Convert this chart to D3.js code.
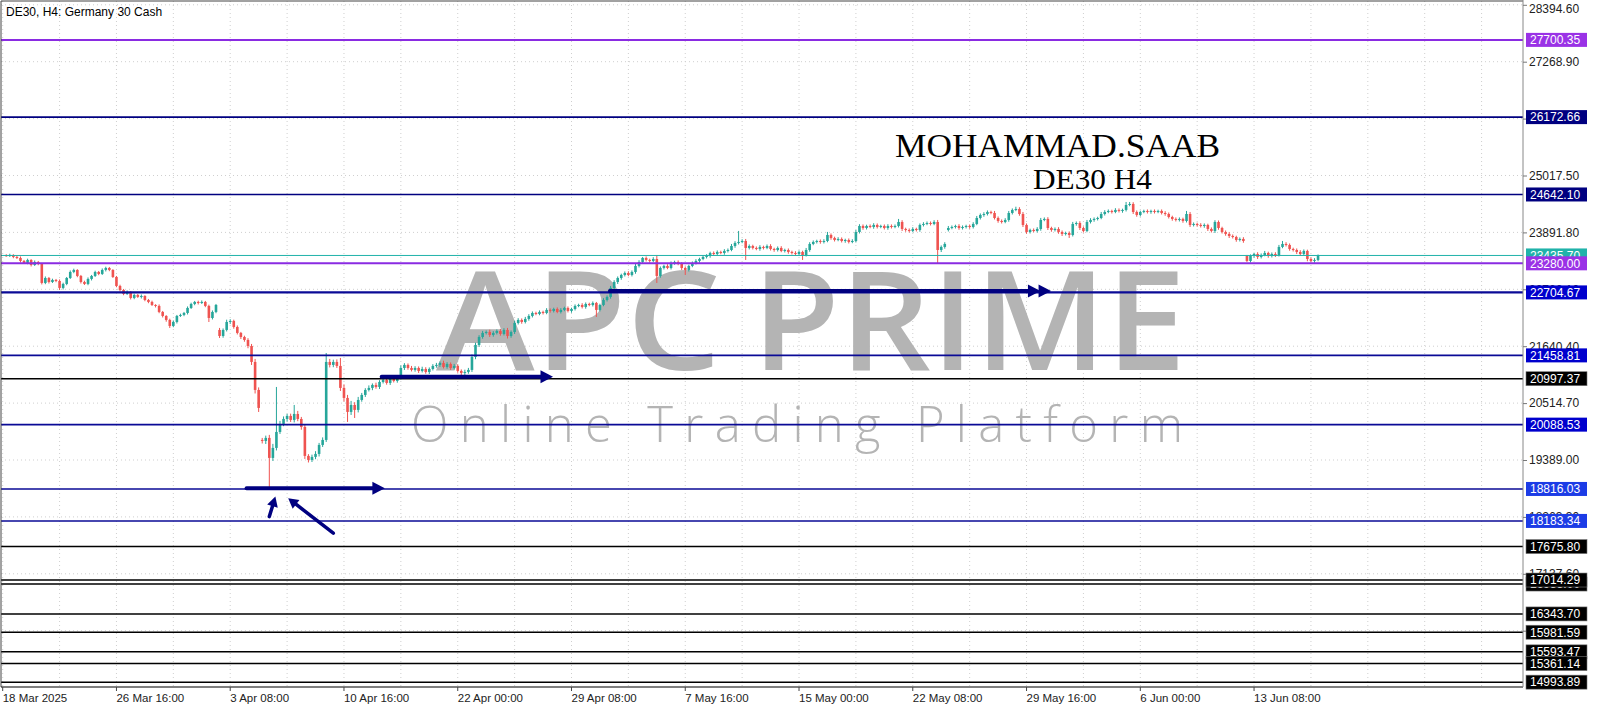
<!DOCTYPE html>
<html><head><meta charset="utf-8">
<script src="https://cdn.jsdelivr.net/npm/d3@7"></script>
<style>html,body{margin:0;padding:0;background:#fff;overflow:hidden}</style>
</head><body><svg id="c" width="1600" height="711"></svg>
<script>
// ---------- DATA ----------
const firstOpen = 23440;
const closes = [
23426,23445,23406,23386,23327,23287,23347,23248,23307,23267,
22892,22990,22911,22951,22931,22793,22872,22990,23109,23149,
23030,22911,22872,22971,23030,23109,23070,23149,23188,23149,
23010,22832,22753,22674,22714,22595,22654,22615,22634,22555,
22516,22456,22437,22318,22239,22160,22041,22120,22239,22259,
22298,22397,22476,22516,22496,22516,22437,22199,22318,22456,
21843,21962,22120,22140,22021,21903,21823,21764,21645,21329,
20775,20419,19766,19826,19430,19628,19944,20103,20201,20261,
20182,20300,20201,20043,19470,19390,19450,19509,19687,19786,
21329,21270,21329,21250,20815,20617,20340,20478,20380,20577,
20676,20775,20815,20874,20834,20933,20973,20914,20993,20953,
21012,21210,21270,21210,21171,21210,21151,21190,21131,21190,
21250,21270,21309,21230,21289,21210,21250,21151,21111,21131,
21171,21428,21665,21823,21903,21922,21863,21903,21942,21883,
21962,21843,21922,22100,22160,22120,22180,22239,22298,22278,
22318,22298,22358,22338,22377,22318,22358,22397,22338,22377,
22437,22456,22417,22476,22456,22496,22358,22456,22555,22615,
22793,22911,22990,23050,23089,23050,23109,23228,23307,23386,
23347,23327,23366,23030,23188,23228,23188,23287,23307,23267,
23188,23149,23228,23287,23327,23366,23406,23426,23485,23465,
23505,23485,23525,23544,23623,23683,23703,23722,23584,23623,
23584,23564,23604,23584,23623,23564,23544,23584,23525,23544,
23505,23485,23465,23505,23445,23544,23663,23703,23722,23703,
23722,23841,23782,23742,23762,23722,23742,23703,23722,23900,
24019,23979,24019,23999,24039,23999,24019,23979,24019,23999,
24019,24098,23960,23940,23920,23960,23940,24039,24059,24078,
24059,24098,23544,23604,23663,23979,23999,24019,23979,23999,
24019,23999,24059,24177,24237,24256,24296,24276,24177,24118,
24098,24138,24276,24336,24355,24256,24039,23900,23940,23920,
23960,24138,24158,23979,23940,23960,23900,23861,23881,23841,
24059,24078,23979,23920,24098,24138,24158,24177,24256,24296,
24316,24296,24336,24316,24336,24434,24454,24296,24237,24296,
24316,24296,24316,24296,24316,24276,24256,24197,24158,24138,
24158,24118,24256,24039,24059,24039,24019,24039,23960,23920,
24098,23979,23900,23861,23821,23801,23742,23762,23722,23327,
23426,23465,23406,23445,23485,23426,23465,23445,23604,23663,
23643,23564,23544,23505,23465,23525,23366,23327,23347,23435.7];
// bars that open away from the previous close (weekend / news gaps)
const gapIndex = [60, 72, 265, 349];
const gapOpen  = [21962, 19786, 23940, 23426];
// wick extension above / below the body, in points
const wickUp = [
20,25,15,20,30,20,25,15,30,20, 15,30,20,25,20,30,25,20,30,25,
15,20,25,30,20,25,20,30,25,20, 15,20,25,20,30,15,25,20,30,15,
20,25,15,30,20,15,25,30,20,25, 20,30,25,20,25,30,20,25,30,20,
40,30,45,35,25,30,20,25,35,40, 60,50,40,45,60,80,890,60,50,40,
45,178,60,40,50,35,45,55,40,50, 177,60,45,50,158,70,60,80,55,60,
40,35,50,30,45,35,40,30,45,35, 40,50,35,30,40,35,30,45,35,30,
35,40,30,45,35,30,40,35,30,45, 40,50,45,35,40,30,45,35,30,40,
35,40,30,45,35,30,40,35,30,25, 30,25,35,30,25,30,35,25,30,25,
30,25,35,30,25,30,20,25,35,30, 40,35,30,25,30,35,30,40,35,20,
30,25,35,79,30,25,35,30,25,30, 35,30,25,30,35,25,30,35,25,30,
30,25,35,30,40,35,218,35,40,30, 25,30,35,25,30,35,25,30,35,25,
30,25,35,30,25,40,35,30,25,30, 35,60,30,25,35,30,25,30,35,40,
35,30,25,30,35,30,25,30,35,30, 30,60,35,25,30,35,25,30,35,30,
30,35,40,30,35,40,30,25,35,30, 25,30,35,40,30,35,30,25,40,30,
30,35,40,30,45,35,40,30,25,30, 35,40,30,35,25,30,35,30,25,30,
40,30,35,30,40,35,30,25,40,35, 30,25,35,30,25,60,40,35,30,25,
25,30,25,30,25,30,35,30,25,30, 30,25,60,40,30,25,35,30,25,30,
35,30,25,30,35,30,25,30,35,20, 30,25,35,30,40,25,30,35,40,59,
35,30,25,30,35,30,25,30,35,20];
const wickDn = [
15,20,25,20,30,15,25,30,20,25, 30,25,30,20,25,40,30,25,20,25,
25,30,20,25,30,20,25,20,30,25, 20,25,30,25,20,30,25,20,30,25,
25,20,30,25,30,35,40,25,30,20, 25,30,20,25,30,20,25,80,30,25,
40,35,30,40,35,30,40,35,45,60, 70,80,50,60,574,60,50,40,45,50,
40,50,45,55,60,50,40,45,50,40, 40,50,45,40,60,70,198,60,160,50,
35,40,30,45,35,40,30,35,40,30, 35,30,40,35,30,35,40,30,35,40,
30,35,40,30,35,40,30,35,45,40, 35,40,45,40,35,30,40,35,30,35,
30,50,35,40,30,35,30,35,30,25, 25,30,25,35,30,25,30,25,30,35,
30,25,30,35,25,30,139,30,25,30, 35,30,40,35,30,25,30,35,30,25,
30,35,25,138,35,30,25,30,35,25, 40,99,30,25,30,35,25,30,35,25,
30,25,35,30,25,35,30,25,237,30, 30,25,35,30,25,30,35,30,25,30,
35,30,25,30,98,30,35,25,30,35, 30,25,35,30,25,30,35,30,25,30,
30,35,30,25,35,30,25,30,35,30, 25,30,40,35,30,25,30,35,30,25,
30,25,257,40,35,30,25,30,35,30, 30,35,30,25,30,35,30,25,30,35,
30,25,35,30,25,35,40,35,30,25, 30,35,25,40,35,30,35,40,30,59,
30,35,40,30,25,30,35,30,25,30, 25,30,25,30,35,30,25,40,35,30,
25,30,35,30,25,30,35,30,35,30, 30,35,30,40,30,35,30,35,40,30,
40,35,30,35,40,30,35,30,35,20, 30,35,40,30,25,35,30,40,30,25,
30,35,30,40,35,30,45,30,35,25];

const timeTickIdx = [-1,31,63,95,127,159,191,223,255,287,319,351];
const timeTickLabels = ["18 Mar 2025","26 Mar 16:00","3 Apr 08:00","10 Apr 16:00","22 Apr 00:00","29 Apr 08:00","7 May 16:00","15 May 00:00","22 May 08:00","29 May 16:00","6 Jun 00:00","13 Jun 08:00"];
const priceTicks = [28394.60,27268.90,26143.20,25017.50,23891.80,22766.10,21640.40,20514.70,19389.00,18263.30,17137.60,16011.90];

const levelPrices = [27700.35,26172.66,24642.10,23435.70,23280.00,22704.67,21458.81,20997.37,20088.53,18816.03,18183.34,17675.80,16935.00,17014.29,16343.70,15981.59,15593.47,15361.14,14993.89];
const levelKinds  = ["violet","navy","navy","bid","violet","blueMain","blue","black","blue","bright","bright","black","black","black","black","black","black","black","black"];

// analyst arrows in (bar index, price)
const arrowFromIdx   = [169.8, 105.6, 67.6, 74.0, 92.0];
const arrowFromPrice = [22733, 21038, 18830, 18269, 17940];
const arrowToIdx     = [293.9, 153.8, 106.5, 75.7, 79.3];
const arrowToPrice   = [22733, 21038, 18830, 18665, 18633];
const arrowHeads     = [2, 1, 1, 1, 1];

// ---------- STYLE / LAYOUT ----------
const plotR = 1523, plotB = 687;
const kindStyle = {
  violet:  {line:"#8a2be2", w:2,   bg:"#9a32e6"},
  navy:    {line:"#000080", w:1.6, bg:"#000080"},
  bid:     {line:"#20b2aa", w:1,   bg:"#20b2aa"},
  blueMain:{line:"#0a0a96", w:2.2, bg:"#0000cd"},
  blue:    {line:"#0a0a96", w:1.6, bg:"#0000cd"},
  bright:  {line:"#0a0a96", w:1.6, bg:"#1c3ce6"},
  black:   {line:"#000000", w:1.5, bg:"#000000"}
};
const bull = "#26a69a", bear = "#ef5350";
const axisFont = "'Liberation Sans', Arial, sans-serif";

const svg = d3.select("#c");
const x = d3.scaleLinear().domain([0, 369]).range([6.25, 1318.05]);
const y = d3.scaleLinear().domain([27268.9, 19389.0]).range([61.7, 460]);

svg.append("rect").attr("width",1600).attr("height",711).attr("fill","#fff");

// grid
const grid = svg.append("g").attr("stroke","#cfcfcf").attr("stroke-width",1).attr("stroke-dasharray","1,3");
grid.selectAll("line.v").data(d3.range(-1, 425, 16)).join("line")
  .attr("x1",d=>x(d)).attr("x2",d=>x(d)).attr("y1",1).attr("y2",plotB);
grid.selectAll("line.h").data(priceTicks).join("line")
  .attr("x1",1).attr("x2",plotR).attr("y1",d=>y(d)).attr("y2",d=>y(d));

// watermark
const wm = svg.append("g").attr("fill","#b4b4b4");
wm.append("text").attr("x",436).attr("y",370).attr("font-family","'Open Sans', sans-serif")
  .attr("font-weight",600).attr("font-size",137).attr("textLength",285).attr("lengthAdjust","spacingAndGlyphs").text("APC");
wm.append("text").attr("x",752).attr("y",370).attr("font-family","'Open Sans', sans-serif")
  .attr("font-weight",600).attr("font-size",137).attr("textLength",434).attr("lengthAdjust","spacingAndGlyphs").text("PRIME");
wm.append("text").attr("x",411).attr("y",442).attr("font-family","'Open Sans', sans-serif")
  .attr("font-weight",300).attr("font-size",49).attr("textLength",772).attr("lengthAdjust","spacing").text("Online Trading Platform");

// candles
const bars = closes.map((c,i)=>{
  const gi = gapIndex.indexOf(i);
  const o = gi>=0 ? gapOpen[gi] : (i===0 ? firstOpen : closes[i-1]);
  return {i, o, c, h: Math.max(o,c)+wickUp[i], l: Math.min(o,c)-wickDn[i]};
});
const cg = svg.append("g");
cg.selectAll("line.w").data(bars).join("line")
  .attr("x1",d=>x(d.i)).attr("x2",d=>x(d.i)).attr("y1",d=>y(d.h)).attr("y2",d=>y(d.l))
  .attr("stroke",d=>d.c>=d.o?bull:bear).attr("stroke-width",1);
cg.selectAll("rect").data(bars).join("rect")
  .attr("x",d=>x(d.i)-1.3).attr("width",2.6)
  .attr("y",d=>y(Math.max(d.o,d.c)))
  .attr("height",d=>Math.max(1, y(Math.min(d.o,d.c))-y(Math.max(d.o,d.c))))
  .attr("fill",d=>d.c>=d.o?bull:bear);

// level lines
const lg = svg.append("g");
levelPrices.forEach((p,k)=>{
  const s = kindStyle[levelKinds[k]];
  lg.append("line").attr("x1",1).attr("x2",plotR).attr("y1",y(p)).attr("y2",y(p))
    .attr("stroke",s.line).attr("stroke-width",s.w);
});

// analyst arrows
const ag = svg.append("g").attr("fill","#000080").attr("stroke","#000080");
arrowFromIdx.forEach((fi,k)=>{
  const x1=x(fi), y1=y(arrowFromPrice[k]), x2=x(arrowToIdx[k]), y2=y(arrowToPrice[k]);
  const dx=x2-x1, dy=y2-y1, len=Math.hypot(dx,dy), ux=dx/len, uy=dy/len;
  const short = len < 60;
  const L = short ? 10 : 12.5, hw = short ? 5.5 : 6.5;
  const nHeads = arrowHeads[k];
  const back = L*(nHeads===2 ? 1.75 : 0.9);
  ag.append("line").attr("x1",x1).attr("y1",y1).attr("x2",x2-ux*back).attr("y2",y2-uy*back)
    .attr("stroke-width", short ? 3.5 : 4).attr("stroke-linecap","round");
  for(let h=0; h<nHeads; h++){
    const tx = x2-ux*h*L*0.85, ty = y2-uy*h*L*0.85;
    const bx = tx-ux*L, by = ty-uy*L;
    ag.append("path").attr("stroke","none")
      .attr("d",`M${tx},${ty}L${bx-uy*hw},${by+ux*hw}L${bx+uy*hw},${by-ux*hw}Z`);
  }
});

// titles
svg.append("text").attr("x",6).attr("y",16).attr("font-family",axisFont).attr("font-size",12)
  .attr("fill","#000").text("DE30, H4:  Germany 30 Cash");
svg.append("text").attr("x",895).attr("y",157).attr("font-family","'Liberation Serif','Times New Roman',serif")
  .attr("font-size",33).attr("textLength",325).attr("lengthAdjust","spacingAndGlyphs").attr("fill","#000").text("MOHAMMAD.SAAB");
svg.append("text").attr("x",1033).attr("y",189).attr("font-family","'Liberation Serif','Times New Roman',serif")
  .attr("font-size",30).attr("textLength",119).attr("lengthAdjust","spacingAndGlyphs").attr("fill","#000").text("DE30 H4");

// frame
svg.append("path").attr("d",`M1,${plotB}V1H${plotR}`).attr("fill","none").attr("stroke","#444").attr("stroke-width",1);
svg.append("line").attr("x1",1).attr("x2",plotR).attr("y1",plotB).attr("y2",plotB).attr("stroke","#000").attr("stroke-width",1.2);
svg.append("line").attr("x1",plotR).attr("x2",plotR).attr("y1",0).attr("y2",plotB).attr("stroke","#888").attr("stroke-width",1);

// time axis
const xa = svg.append("g");
timeTickIdx.forEach((ti,k)=>{
  const tx = x(ti);
  xa.append("line").attr("x1",tx).attr("x2",tx).attr("y1",plotB).attr("y2",plotB+4).attr("stroke","#444");
  xa.append("text").attr("x",tx).attr("y",702).attr("font-family",axisFont).attr("font-size",11.5)
    .attr("fill","#222").text(timeTickLabels[k]);
});

// price axis
const yAxis = d3.axisRight(y).tickValues(priceTicks).tickSize(4).tickPadding(2).tickFormat(d=>d.toFixed(2));
const ya = svg.append("g").attr("transform",`translate(${plotR},0)`).call(yAxis);
ya.select(".domain").remove();
ya.selectAll("line").attr("stroke","#777");
ya.selectAll("text").attr("font-family",axisFont).attr("font-size",12).attr("fill","#222");
// keep the top label inside the picture
ya.selectAll(".tick").filter(d=>d===priceTicks[0]).select("text").attr("dy","0.62em");

// level labels (drawn on top of the axis)
const lab = svg.append("g");
levelPrices.forEach((p,k)=>{
  const s = kindStyle[levelKinds[k]];
  const cy = y(p);
  lab.append("rect").attr("x",1526).attr("y",cy-7).attr("width",61).attr("height",14)
    .attr("fill",s.bg).attr("stroke", levelKinds[k]==="black" ? "#777" : "none").attr("stroke-width",0.6);
  lab.append("text").attr("x",1530).attr("y",cy).attr("dy","0.36em").attr("font-family",axisFont)
    .attr("font-size",12).attr("fill","#fff").text(p.toFixed(2));
});
</script></body></html>
